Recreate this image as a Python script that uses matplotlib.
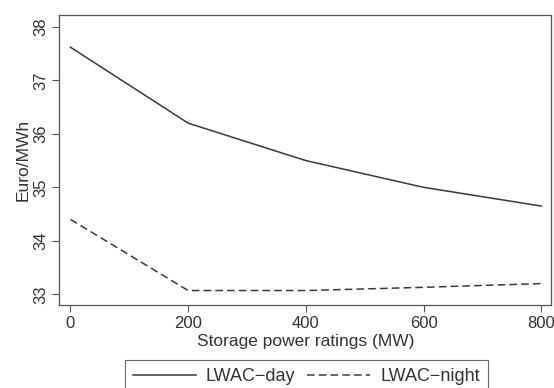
import matplotlib.pyplot as plt

plt.rcParams['font.family'] = ['Liberation Sans', 'DejaVu Sans']

power_mw = [0, 200, 400, 600, 800]
lwac_day = [37.62, 36.2, 35.5, 35.0, 34.65]
lwac_night = [34.4, 33.07, 33.07, 33.13, 33.2]

fig = plt.figure(figsize=(5.54, 3.88), dpi=100)
ax = fig.add_axes([0.107, 0.214, 0.888, 0.747])

line_col = '#3a3a3a'
ax.plot(power_mw, lwac_day, color=line_col, linewidth=1.1, label='LWAC\u2212day')
ax.plot(power_mw, lwac_night, color=line_col, linewidth=1.1, linestyle=(0, (5, 2.7)),
        label='LWAC\u2212night')

ax.set_xlim(-19, 817)
ax.set_ylim(32.8, 38.22)
ax.set_xticks([0, 200, 400, 600, 800])
ax.set_yticks([33, 34, 35, 36, 37, 38])
ax.set_yticklabels(['33', '34', '35', '36', '37', '38'], rotation=90, va='center')

for s in ax.spines.values():
    s.set_color('#555555')
    s.set_linewidth(0.9)
ax.tick_params(direction='out', length=5, width=0.8, color='#555555',
               labelsize=12, labelcolor='#333333', pad=3)

ax.set_xlabel('Storage power ratings (MW)', fontsize=12.5, color='#333333', labelpad=2)
ax.set_ylabel('Euro/MWh', fontsize=12.5, color='#333333', labelpad=2)

leg = ax.legend(loc='upper center', bbox_to_anchor=(0.502, -0.19), ncol=2,
                frameon=True, fancybox=False, fontsize=13, handlelength=3.5,
                handletextpad=0.55, columnspacing=0.65, borderpad=0.45,
                borderaxespad=0)
leg.get_frame().set_edgecolor('#444444')
leg.get_frame().set_linewidth(0.8)
for t in leg.get_texts():
    t.set_color('#333333')

fig.savefig('out.png', dpi=100)
